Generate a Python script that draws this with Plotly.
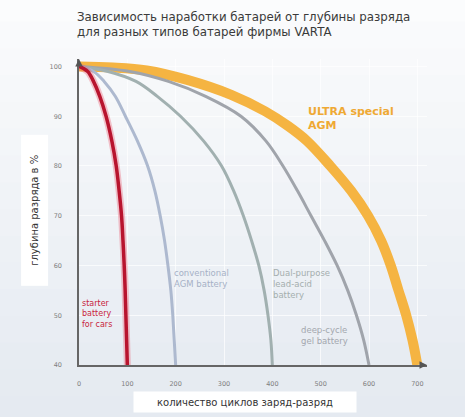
import plotly.graph_objects as go

# ---- data (depth of discharge % vs cycles) ----
depth = [100, 99, 97, 94, 90, 85, 80, 75, 70, 65, 60, 55, 50, 45, 40]

red_cycles = [0, 18, 30, 43, 56, 68, 77, 83, 88, 91, 93.5, 95.5, 97, 98.5, 100]
blue_cycles = [0, 30, 52, 75, 96, 121, 142, 157, 168, 177, 184, 190, 194, 197, 200]
green_cycles = [0, 60, 118, 162, 210, 258, 295, 320, 340, 357, 372, 383, 391, 397, 400]
gray_cycles = [0, 105, 185, 262, 335, 387, 422, 452, 480, 508, 534, 556, 574, 589, 600]

orange_depth = [100, 99.8, 99.2, 97.3, 94.3, 91, 88, 85, 80, 75, 70, 65, 60, 55, 50, 45, 40]
orange_cycles = [0, 70, 140, 224, 315, 385, 433, 472, 520, 563, 598, 625, 645, 661, 677, 690, 700]

x_ticks = [0, 100, 200, 300, 400, 500, 600, 700]
y_ticks = [40, 50, 60, 70, 80, 90, 100]

title_lines = ["Зависимость наработки батарей от глубины разряда",
               "для разных типов батарей фирмы VARTA"]
x_title = "количество циклов заряд-разряд"
y_title = "глубина разряда в %"

labels = [
    ("ULTRA special<br>AGM", 470, 89.6, "#efa934", 11, True),
    ("starter<br>battery<br>for cars", 2, 50.3, "#c8243c", 8, False),
    ("conventional<br>AGM battery", 193, 57.3, "#a6b1c6", 8.5, False),
    ("Dual-purpose<br>lead-acid<br>battery", 398, 56.3, "#a4aeae", 8.5, False),
    ("deep-cycle<br>gel battery", 456, 45.9, "#a3a7ae", 8.5, False),
]

FONT = "DejaVu Sans"

fig = go.Figure()

# background gradient (top white -> light blue-grey)
n = 16
top = (251, 252, 253)
bot = (229, 234, 241)
for i in range(n):
    t = i / (n - 1)
    c = tuple(int(top[k] + (bot[k] - top[k]) * t) for k in range(3))
    y1 = 1.2 - i * (1.4 / n)
    y0 = 1.2 - (i + 1) * (1.4 / n)
    fig.add_shape(type="rect", xref="paper", yref="paper", x0=-0.3, x1=1.2,
                  y0=y0 - 0.2 if i == n - 1 else y0, y1=y1 + 0.01,
                  fillcolor="rgb(%d,%d,%d)" % c, line_width=0, layer="below")

fig.add_trace(go.Scatter(x=orange_cycles, y=orange_depth, mode="lines",
                         line=dict(color="#f5b442", width=10, shape="spline", smoothing=1),
                         hoverinfo="skip"))
fig.add_trace(go.Scatter(x=gray_cycles, y=depth, mode="lines",
                         line=dict(color="#a0a4ab", width=3, shape="spline", smoothing=1),
                         hoverinfo="skip"))
fig.add_trace(go.Scatter(x=green_cycles, y=depth, mode="lines",
                         line=dict(color="#a1b0b0", width=3, shape="spline", smoothing=1),
                         hoverinfo="skip"))
fig.add_trace(go.Scatter(x=blue_cycles, y=depth, mode="lines",
                         line=dict(color="#adb9cf", width=3, shape="spline", smoothing=1),
                         hoverinfo="skip"))
fig.add_trace(go.Scatter(x=red_cycles, y=depth, mode="lines",
                         line=dict(color="rgba(235,90,110,0.35)", width=7, shape="spline", smoothing=1),
                         hoverinfo="skip"))
fig.add_trace(go.Scatter(x=red_cycles, y=depth, mode="lines",
                         line=dict(color="#b8142e", width=3.5, shape="spline", smoothing=1),
                         hoverinfo="skip"))

for text, x, y, col, size, bold in labels:
    fig.add_annotation(x=x, y=y, text=("<b>%s</b>" % text) if bold else text,
                       showarrow=False, xanchor="left", yanchor="middle", align="left",
                       font=dict(color=col, size=size, family=FONT))

# title
fig.add_annotation(xref="paper", yref="paper", x=-0.0115, y=1.167, xanchor="left", yanchor="top",
                   text="<br>".join(title_lines), showarrow=False, align="left",
                   font=dict(size=11.8, color="#3a3a3a", family=FONT))

# axis titles in white boxes
fig.add_annotation(xref="paper", yref="paper", x=0.477, y=-0.121, xanchor="center", yanchor="middle",
                   text=x_title, showarrow=False, bgcolor="white", width=220, height=18,
                   font=dict(size=10, color="#333", family=FONT))
fig.add_annotation(xref="paper", yref="paper", x=-0.128, y=0.507, xanchor="center", yanchor="middle",
                   text=y_title, showarrow=False, bgcolor="white", textangle=-90, width=148, height=24,
                   font=dict(size=10, color="#333", family=FONT))

# axis arrows
fig.add_annotation(xref="paper", yref="paper", x=0, y=1.0, ax=0, ay=8,
                   showarrow=True, arrowhead=2, arrowsize=1, arrowwidth=1.5, arrowcolor="#555", text="")
fig.add_annotation(xref="paper", yref="paper", x=1.0, y=0, ax=-8, ay=0,
                   showarrow=True, arrowhead=2, arrowsize=1, arrowwidth=1.5, arrowcolor="#555", text="")

fig.update_xaxes(range=[0, 720], tickvals=x_ticks, showline=True, linecolor="#666", linewidth=1.5,
                 showgrid=True, gridcolor="rgba(255,255,255,0.7)", gridwidth=1, zeroline=False,
                 tickfont=dict(size=6.5, color="#808080", family=FONT), ticks="",
                 ticklabelstandoff=11)
fig.update_yaxes(range=[40, 101.5], tickvals=y_ticks, showline=True, linecolor="#666", linewidth=1.5,
                 showgrid=True, gridcolor="rgba(255,255,255,0.7)", gridwidth=1, zeroline=False,
                 tickfont=dict(size=6.5, color="#808080", family=FONT), ticks="",
                 ticklabelstandoff=14)

fig.update_layout(width=465, height=417, margin=dict(l=79, r=38, t=59, b=52),
                  paper_bgcolor="#eef1f5", plot_bgcolor="rgba(0,0,0,0)", showlegend=False)

fig.write_html("out.html", config={"displayModeBar": False},
               post_script="document.body.style.margin='0';document.body.style.overflow='hidden';"
                           "document.body.style.background='#eef1f5';")
